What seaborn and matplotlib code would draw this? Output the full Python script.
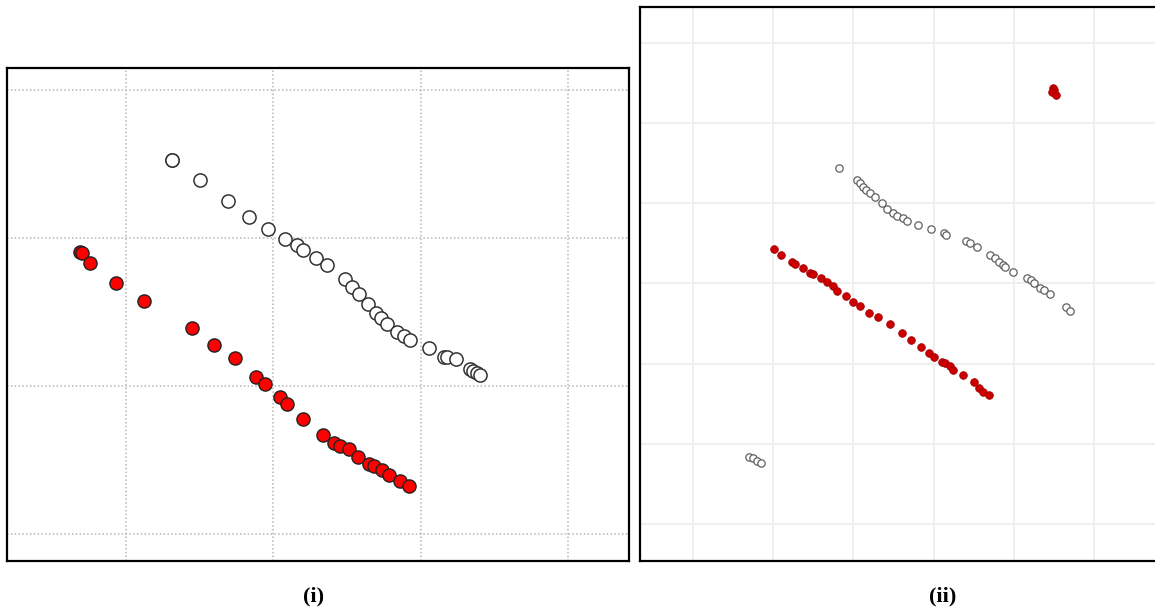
import pandas as pd
import matplotlib
matplotlib.use("Agg")
import matplotlib.pyplot as plt
import seaborn as sns

sns.set_style("white")

# --- panel (i) data ---
left_open_x = [1.312, 1.312, 1.502, 1.692, 1.835, 1.964, 2.079, 2.161, 2.202, 2.290, 2.365,
               2.487, 2.534, 2.582, 2.643, 2.697, 2.731, 2.772, 2.840, 2.887, 2.928,
               3.057, 3.159, 3.179, 3.240, 3.335, 3.356, 3.383, 3.403]
left_open_y = [3.527, 3.530, 3.392, 3.250, 3.142, 3.061, 2.993, 2.953, 2.919, 2.865, 2.818,
               2.723, 2.669, 2.622, 2.554, 2.493, 2.459, 2.419, 2.365, 2.338, 2.311,
               2.257, 2.196, 2.196, 2.182, 2.115, 2.101, 2.088, 2.074]
left_red_x = [0.688, 0.701, 0.756, 0.932, 1.122, 1.448, 1.597, 1.740, 1.883, 1.944, 2.045, 2.093,
              2.202, 2.337, 2.412, 2.453, 2.514, 2.575, 2.650, 2.684, 2.738, 2.785, 2.860, 2.921]
left_red_y = [2.905, 2.899, 2.831, 2.696, 2.574, 2.392, 2.277, 2.189, 2.061, 2.014, 1.926, 1.878,
              1.777, 1.669, 1.615, 1.595, 1.574, 1.520, 1.473, 1.459, 1.432, 1.399, 1.358, 1.324]

# --- panel (ii) data ---
right_red_x = [1.010, 1.097, 1.234, 1.272, 1.372, 1.459, 1.496, 1.596, 1.671, 1.746, 1.796,
               1.908, 1.995, 2.082, 2.195, 2.307, 2.456, 2.606, 2.718, 2.843, 2.943, 3.005,
               3.105, 3.142, 3.204, 3.242, 3.367, 3.504, 3.566, 3.616, 3.691,
               4.489, 4.501, 4.476, 4.526]
right_red_y = [3.430, 3.355, 3.268, 3.243, 3.193, 3.131, 3.118, 3.068, 3.019, 2.969, 2.906,
               2.844, 2.769, 2.719, 2.632, 2.582, 2.495, 2.382, 2.295, 2.208, 2.133, 2.083,
               2.021, 2.008, 1.971, 1.921, 1.859, 1.771, 1.696, 1.647, 1.609,
               5.438, 5.414, 5.389, 5.351]
right_open_x = [1.820, 2.045, 2.082, 2.120, 2.157, 2.207, 2.269, 2.357, 2.419, 2.494, 2.544,
                2.618, 2.668, 2.805, 2.968, 3.130, 3.155, 3.404, 3.454, 3.541, 3.703, 3.766,
                3.815, 3.865, 3.890, 3.990, 4.165, 4.214, 4.252, 4.327, 4.377, 4.451,
                4.651, 4.701,
                0.698, 0.748, 0.798, 0.848]
right_open_y = [4.441, 4.291, 4.253, 4.204, 4.166, 4.129, 4.079, 4.004, 3.929, 3.879, 3.842,
                3.817, 3.779, 3.730, 3.680, 3.630, 3.605, 3.530, 3.505, 3.455, 3.355, 3.318,
                3.268, 3.231, 3.206, 3.143, 3.068, 3.044, 3.006, 2.944, 2.919, 2.869,
                2.707, 2.657,
                0.836, 0.823, 0.786, 0.761]

left_open = pd.DataFrame({"x": left_open_x, "y": left_open_y})
left_red = pd.DataFrame({"x": left_red_x, "y": left_red_y})
right_open = pd.DataFrame({"x": right_open_x, "y": right_open_y})
right_red = pd.DataFrame({"x": right_red_x, "y": right_red_y})

fig = plt.figure(figsize=(11.55, 6.15), dpi=100)
ax1 = fig.add_axes([7 / 1155, 1 - 561 / 615, 622 / 1155, 493 / 615])
ax2 = fig.add_axes([640 / 1155, 1 - 561 / 615, 522 / 1155, 554 / 615])

# panel (i)
sns.scatterplot(data=left_open, x="x", y="y", ax=ax1, s=90, color="white",
                edgecolor="#333333", linewidth=1.1, zorder=3)
sns.scatterplot(data=left_red, x="x", y="y", ax=ax1, s=90, color="#ff0000",
                edgecolor="#222222", linewidth=1.0, zorder=3)
ax1.set_xlim(0.192, 4.414)
ax1.set_ylim(0.818, 4.149)
ax1.set_xticks([1, 2, 3, 4])
ax1.set_yticks([1, 2, 3, 4])
ax1.grid(True, linestyle=(0, (1, 1.5)), color="#b5b5b5", linewidth=1.1)

# panel (ii)
ax2.set_axisbelow(True)
sns.scatterplot(data=right_open, x="x", y="y", ax=ax2, s=28, color="white",
                edgecolor="#606060", linewidth=0.9, zorder=3)
sns.scatterplot(data=right_red, x="x", y="y", ax=ax2, s=30, color="#cc0000",
                edgecolor="#a00000", linewidth=0.6, zorder=3)
ax2.set_xlim(-0.661, 5.85)
ax2.set_ylim(-0.4615, 6.449)
ax2.set_xticks([0, 1, 2, 3, 4, 5])
ax2.set_yticks([0, 1, 2, 3, 4, 5, 6])
ax2.grid(True, linestyle="-", color="#efefef", linewidth=1.4)

for ax in (ax1, ax2):
    ax.set_xlabel("")
    ax.set_ylabel("")
    ax.tick_params(length=0, labelbottom=False, labelleft=False)
    for sp in ax.spines.values():
        sp.set_visible(True)
        sp.set_color("black")
        sp.set_linewidth(1.6)

fig.text(314 / 1155, 1 - 596 / 615, "(i)", ha="center", va="center", color="black",
         fontsize=16, fontweight="bold", family="Liberation Serif")
fig.text(943 / 1155, 1 - 596 / 615, "(ii)", ha="center", va="center", color="black",
         fontsize=16, fontweight="bold", family="Liberation Serif")

fig.savefig("out.png", dpi=100)
